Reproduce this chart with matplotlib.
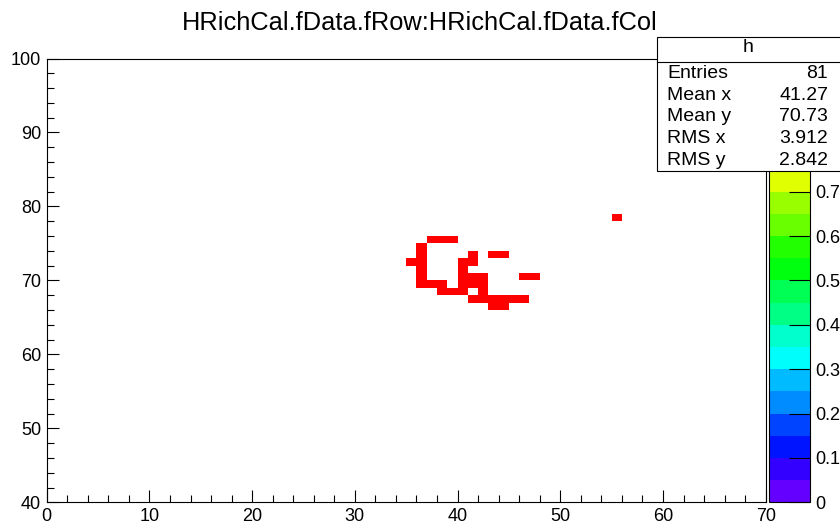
import colorsys
import numpy as np
import matplotlib
matplotlib.use('Agg')
import matplotlib.pyplot as plt
from matplotlib.colors import ListedColormap, Normalize
from matplotlib.patches import Rectangle
from matplotlib.lines import Line2D
from matplotlib.ticker import MultipleLocator, FormatStrFormatter

plt.rcParams['font.family'] = ['Liberation Sans', 'DejaVu Sans']

title = 'HRichCal.fData.fRow:HRichCal.fData.fCol'

# filled cells, lower bin edges (fCol, fRow), one unit wide
cell_x = [37, 38, 39,
          36,
          36, 41, 43, 44,
          35, 36, 40, 41,
          36, 40,
          36, 40, 41, 42, 46, 47,
          36, 37, 38, 40, 41, 42,
          38, 39, 40, 42,
          41, 42, 43, 44, 45, 46,
          43, 44,
          55]
cell_y = [75, 75, 75,
          74,
          73, 73, 73, 73,
          72, 72, 72, 72,
          71, 71,
          70, 70, 70, 70, 70, 70,
          69, 69, 69, 69, 69, 69,
          68, 68, 68, 68,
          67, 67, 67, 67, 67, 67,
          66, 66,
          78]

x_range = (0, 70)
y_range = (40, 100)
z_max = 1.0
n_levels = 20
# only these palette labels are visible, the rest sit under the stats box
z_ticks = [0, 0.1, 0.2, 0.3, 0.4, 0.5, 0.6, 0.7]

stats_title = 'h'
stats_names = ['Entries', 'Mean x', 'Mean y', 'RMS x', 'RMS y']
stats_values = ['81', '41.27', '70.73', '3.912', '2.842']

# ROOT "pretty" palette (violet -> red), sampled at 20 contour levels
pal = []
for i in range(50):
    hue = 280 - (i + 1) * 280 / 50
    pal.append(colorsys.hls_to_rgb(hue / 360.0, 0.5, 1.0))
cols = [pal[int((k + 0.99) * 50 / n_levels)] for k in range(n_levels)]
cmap = ListedColormap(cols)
norm = Normalize(0, z_max)

xe = np.arange(x_range[0], x_range[1] + 1)
ye = np.arange(y_range[0], y_range[1] + 1)
H, _, _ = np.histogram2d(np.array(cell_x) + 0.5, np.array(cell_y) + 0.5, bins=[xe, ye])
H = np.ma.masked_equal(H.T, 0)

W, Hpx = 840, 524
fig = plt.figure(figsize=(W / 100, Hpx / 100), dpi=100)
ax = fig.add_axes([46.7 / W, 1 - 502.3 / Hpx, (765.7 - 46.7) / W, (502.3 - 58.5) / Hpx])
mesh = ax.pcolormesh(xe, ye, H, cmap=cmap, norm=norm, edgecolors='none', antialiased=False)
ax.set_xlim(*x_range)
ax.set_ylim(*y_range)

ax.xaxis.set_major_locator(MultipleLocator(10))
ax.xaxis.set_minor_locator(MultipleLocator(2))
ax.yaxis.set_major_locator(MultipleLocator(10))
ax.yaxis.set_minor_locator(MultipleLocator(2))
ax.tick_params(which='both', direction='in', top=False, right=False, labelsize=13, width=0.8)
ax.tick_params(which='major', length=8.6)
ax.tick_params(which='minor', length=5)
ax.tick_params(axis='x', pad=4)
ax.tick_params(axis='y', pad=4)
for s in ax.spines.values():
    s.set_linewidth(0.8)

cax = fig.add_axes([769 / W, 1 - 502.3 / Hpx, 41 / W, (502.3 - 58.5) / Hpx])
cb = fig.colorbar(mesh, cax=cax)
cb.set_ticks(z_ticks)
cb.ax.yaxis.set_major_formatter(FormatStrFormatter('%g'))
cb.ax.tick_params(direction='in', length=15, width=0.8, labelsize=13, pad=4)
cb.ax.minorticks_off()
cb.outline.set_linewidth(0.8)

fig.text(0.5, 1 - 22.5 / Hpx, title, ha='center', va='center', fontsize=18.3)

# stats box
bx0, bx1, by0, by1 = 657, 841, 37, 170.7
fig.patches.append(Rectangle((bx0 / W, 1 - by1 / Hpx), (bx1 - bx0) / W, (by1 - by0) / Hpx,
                             transform=fig.transFigure, facecolor='white', edgecolor='black',
                             linewidth=0.8, zorder=10))
fig.lines.append(Line2D([bx0 / W, bx1 / W], [1 - 61.7 / Hpx] * 2, transform=fig.transFigure,
                        color='black', linewidth=0.8, zorder=11))
fig.text((bx0 + 840) / 2 / W, 1 - 48 / Hpx, stats_title, ha='center', va='center', fontsize=14, zorder=12)
for i, (nm, val) in enumerate(zip(stats_names, stats_values)):
    yy = 1 - (73.3 + i * 21.7) / Hpx
    fig.text(667 / W, yy, nm, ha='left', va='center', fontsize=14, zorder=12)
    fig.text(828 / W, yy, val, ha='right', va='center', fontsize=14, zorder=12)

fig.savefig('out.png', dpi=100)
